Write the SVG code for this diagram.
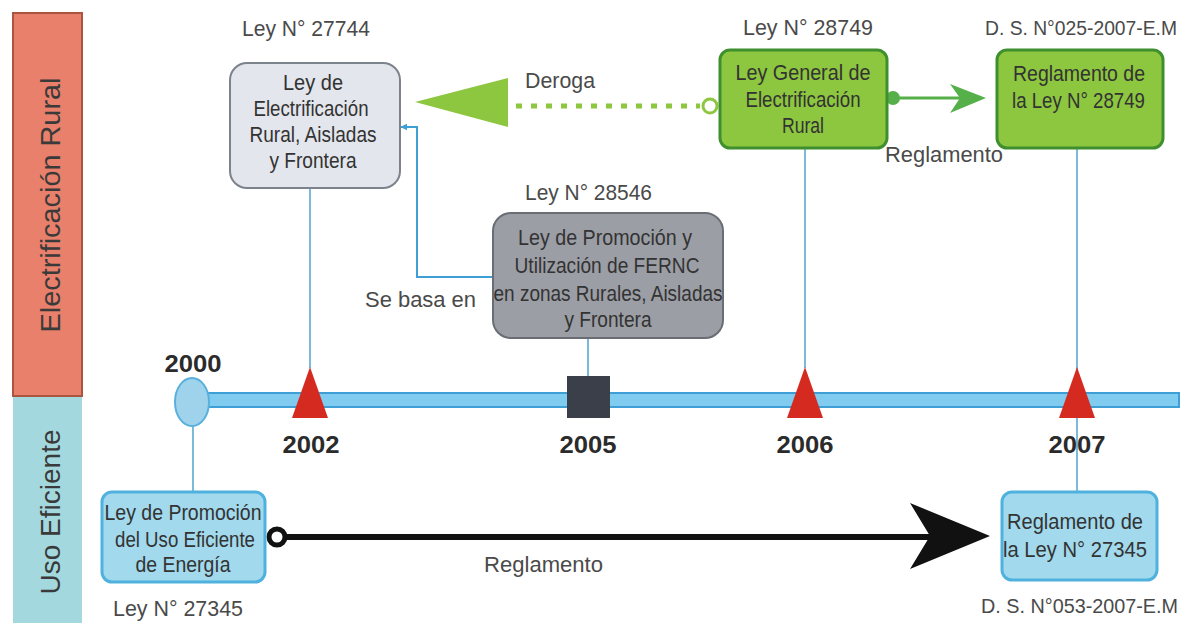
<svg xmlns="http://www.w3.org/2000/svg" width="1186" height="623" viewBox="0 0 1186 623">
<defs>
<style>
.lbl{font-family:"Liberation Sans",Arial,sans-serif;font-size:22px;fill:#4a4a4a}
.ds{font-family:"Liberation Sans",Arial,sans-serif;font-size:19.5px;fill:#4a4a4a}
.nt{font-family:"Liberation Sans",Arial,sans-serif;font-size:22px;fill:#333;text-anchor:middle}
.yr{font-family:"Liberation Sans",Arial,sans-serif;font-size:23px;font-weight:bold;fill:#2b2b2b;text-anchor:middle}
.side{font-family:"Liberation Sans",Arial,sans-serif;font-size:27px;fill:#3a3a3a;text-anchor:middle}
.vline{stroke:#5ba9d3;stroke-width:1.6;fill:none}
.tri{fill:#d42a20}
.green{fill:#8dc63f;stroke:#3f8f2f;stroke-width:3}
.blue{fill:#a2d9ec;stroke:#4fb2de;stroke-width:3}
</style>
<marker id="sm" viewBox="0 0 10 10" refX="9" refY="5" markerWidth="7" markerHeight="7" orient="auto-start-reverse" markerUnits="userSpaceOnUse">
<path d="M0,0 L10,5 L0,10 z" fill="#3d9fd5"/>
</marker>
</defs>
<rect width="1186" height="623" fill="#ffffff"/>

<g id="lane-rural">
<rect x="13" y="13" width="69" height="383" fill="#e8806b" stroke="#a9553f" stroke-width="2"/>
<text class="side" transform="translate(60,205) rotate(-90)" textLength="255" lengthAdjust="spacingAndGlyphs">Electrificación Rural</text>
</g>
<g id="lane-uso">
<rect x="13" y="397" width="69" height="226" fill="#a3d9de"/>
<text class="side" transform="translate(60,512) rotate(-90)" textLength="165" lengthAdjust="spacingAndGlyphs">Uso Eficiente</text>
</g>

<g id="connectors">
<path class="vline" d="M310,188 V368"/>
<path class="vline" d="M805,148 V368"/>
<path class="vline" d="M1077,148 V492"/>
<path class="vline" d="M588,338 V377"/>
<path class="vline" d="M193,426 V492"/>
<path d="M493,277 H417 V127 H401" stroke="#3d9fd5" stroke-width="2" fill="none" marker-end="url(#sm)"/>
<text class="lbl" x="365" y="307" textLength="111" lengthAdjust="spacingAndGlyphs">Se basa en</text>
<line x1="516" y1="106" x2="700" y2="106" stroke="#8dc63f" stroke-width="5" stroke-dasharray="6 9"/>
<circle cx="710" cy="106" r="7" fill="#fff" stroke="#8dc63f" stroke-width="3"/>
<polygon points="415,102 508,78 508,127" fill="#8dc63f"/>
<text class="lbl" x="525" y="88" textLength="70" lengthAdjust="spacingAndGlyphs">Deroga</text>
<line x1="893" y1="98" x2="960" y2="98" stroke="#56b04a" stroke-width="3"/>
<circle cx="893" cy="98" r="7" fill="#56b04a"/>
<polygon points="986,98 950,84 960,98 950,113" fill="#56b04a"/>
<text class="lbl" x="885" y="162" textLength="118" lengthAdjust="spacingAndGlyphs">Reglamento</text>
<line x1="285" y1="537" x2="932" y2="537" stroke="#111" stroke-width="6"/>
<circle cx="277" cy="537" r="8" fill="#fff" stroke="#111" stroke-width="5"/>
<polygon points="990,536 910,503 930,536 910,569" fill="#111"/>
<text class="lbl" x="484" y="572" textLength="119" lengthAdjust="spacingAndGlyphs">Reglamento</text>
</g>

<g id="timeline">
<rect x="200" y="393" width="979" height="14" fill="#80ccf0" stroke="#3d9fd5" stroke-width="2"/>
</g>

<g id="y2000">
<ellipse cx="192" cy="402" rx="17" ry="24" fill="#9fd3ec" stroke="#5ab0dc" stroke-width="2"/>
<text class="yr" x="193" y="372" textLength="57" lengthAdjust="spacingAndGlyphs">2000</text>
</g>
<g id="y2002">
<polygon class="tri" points="310,367 328,418 292,418"/>
<text class="yr" x="311" y="453" textLength="57" lengthAdjust="spacingAndGlyphs">2002</text>
</g>
<g id="y2005">
<rect x="567" y="376" width="43" height="42" fill="#3b3f4a"/>
<text class="yr" x="588" y="453" textLength="57" lengthAdjust="spacingAndGlyphs">2005</text>
</g>
<g id="y2006">
<polygon class="tri" points="805,367 823,418 787,418"/>
<text class="yr" x="805" y="453" textLength="57" lengthAdjust="spacingAndGlyphs">2006</text>
</g>
<g id="y2007">
<polygon class="tri" points="1077,367 1095,418 1059,418"/>
<text class="yr" x="1077" y="453" textLength="57" lengthAdjust="spacingAndGlyphs">2007</text>
</g>

<g id="ley27744">
<text class="lbl" x="242" y="36" textLength="128" lengthAdjust="spacingAndGlyphs">Ley N° 27744</text>
<rect x="230" y="63" width="170" height="125" rx="17" fill="#e3e6ec" stroke="#7d838c" stroke-width="2"/>
<text class="nt" x="313" y="90" textLength="60" lengthAdjust="spacingAndGlyphs">Ley de</text>
<text class="nt" x="311" y="116" textLength="115" lengthAdjust="spacingAndGlyphs">Electrificación</text>
<text class="nt" x="313" y="142" textLength="127" lengthAdjust="spacingAndGlyphs">Rural, Aisladas</text>
<text class="nt" x="313" y="168" textLength="87" lengthAdjust="spacingAndGlyphs">y Frontera</text>
</g>

<g id="ley28546">
<text class="lbl" x="525" y="200" textLength="127" lengthAdjust="spacingAndGlyphs">Ley N° 28546</text>
<rect x="493" y="213" width="230" height="125" rx="18" fill="#9c9ea5" stroke="#6a6d74" stroke-width="2"/>
<text class="nt" x="605" y="245" textLength="174" lengthAdjust="spacingAndGlyphs">Ley de Promoción y</text>
<text class="nt" x="607" y="273" textLength="185" lengthAdjust="spacingAndGlyphs">Utilización de FERNC</text>
<text class="nt" x="608" y="301" textLength="229" lengthAdjust="spacingAndGlyphs">en zonas Rurales, Aisladas</text>
<text class="nt" x="608" y="327" textLength="87" lengthAdjust="spacingAndGlyphs">y Frontera</text>
</g>

<g id="ley28749">
<text class="lbl" x="743" y="35" textLength="130" lengthAdjust="spacingAndGlyphs">Ley N° 28749</text>
<rect x="720" y="50" width="167" height="98" rx="10" class="green"/>
<text class="nt" x="803" y="80" textLength="135" lengthAdjust="spacingAndGlyphs">Ley General de</text>
<text class="nt" x="803" y="107" textLength="115" lengthAdjust="spacingAndGlyphs">Electrificación</text>
<text class="nt" x="803" y="133" textLength="42" lengthAdjust="spacingAndGlyphs">Rural</text>
</g>

<g id="ds025">
<text class="ds" x="985" y="35" textLength="192" lengthAdjust="spacingAndGlyphs">D. S. N°025-2007-E.M</text>
<rect x="997" y="50" width="166" height="98" rx="10" class="green"/>
<text class="lbl" x="1013" y="81" style="fill:#333" textLength="132" lengthAdjust="spacingAndGlyphs">Reglamento de</text>
<text class="lbl" x="1012" y="108" style="fill:#333" textLength="133" lengthAdjust="spacingAndGlyphs">la Ley N° 28749</text>
</g>

<g id="ley27345">
<rect x="102" y="492" width="163" height="90" rx="10" class="blue"/>
<text class="nt" x="183" y="520" textLength="157" lengthAdjust="spacingAndGlyphs">Ley de Promoción</text>
<text class="nt" x="185" y="547" textLength="140" lengthAdjust="spacingAndGlyphs">del Uso Eficiente</text>
<text class="nt" x="183" y="572" textLength="95" lengthAdjust="spacingAndGlyphs">de Energía</text>
<text class="lbl" x="113" y="616" textLength="130" lengthAdjust="spacingAndGlyphs">Ley N° 27345</text>
</g>

<g id="ds053">
<rect x="1002" y="492" width="155" height="88" rx="10" class="blue"/>
<text class="nt" x="1075" y="529" textLength="136" lengthAdjust="spacingAndGlyphs">Reglamento de</text>
<text class="nt" x="1075" y="557" textLength="144" lengthAdjust="spacingAndGlyphs">la Ley N° 27345</text>
<text class="ds" x="981" y="613" textLength="197" lengthAdjust="spacingAndGlyphs">D. S. N°053-2007-E.M</text>
</g>
</svg>
